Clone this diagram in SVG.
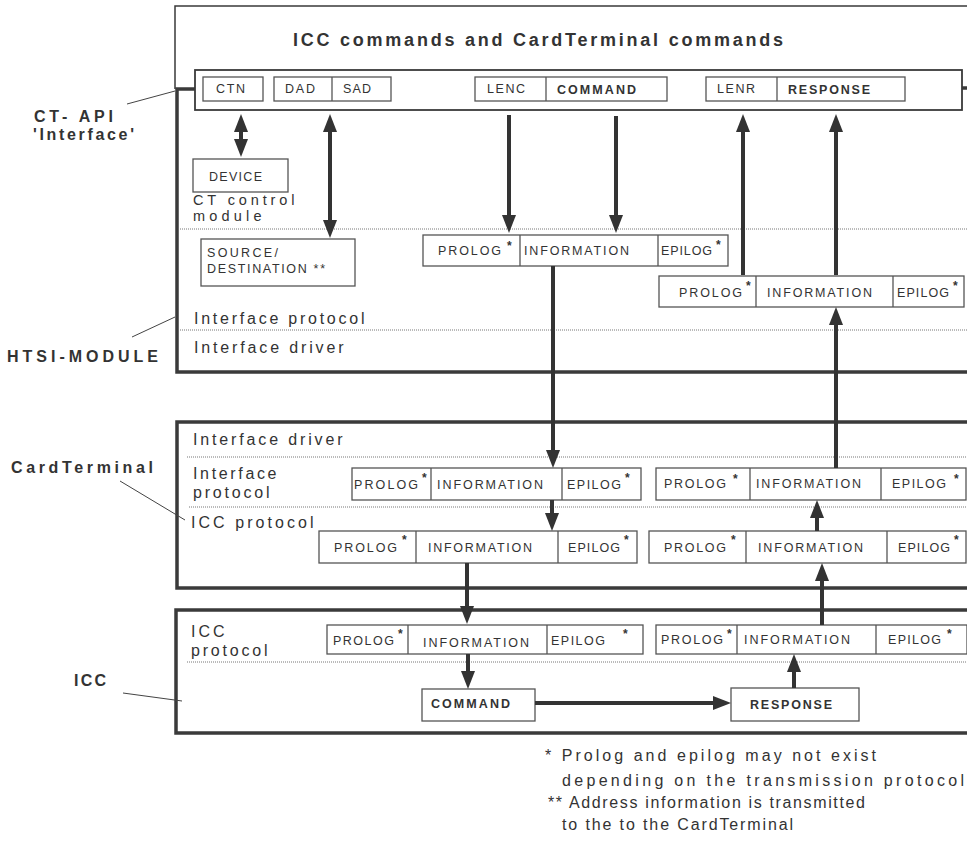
<svg xmlns="http://www.w3.org/2000/svg" width="967" height="867" viewBox="0 0 967 867">
<style>
text{font-family:"Liberation Sans",Arial,sans-serif;fill:#333}
.t{font-size:12.5px;letter-spacing:2px}
.b{font-weight:bold}
.l{font-size:16px;letter-spacing:2.5px}
.m{font-size:14.5px;letter-spacing:2.5px}
.st{font-size:12px;font-weight:bold}
.lab{font-size:16px;font-weight:bold;letter-spacing:3px}
.fn{font-size:16px;letter-spacing:2px}
.box{fill:#fff;stroke:#555;stroke-width:1.3}
.thin{fill:none;stroke:#3a3a3a;stroke-width:1.5}
.thick{fill:none;stroke:#3a3a3a;stroke-width:3.5}
.dot{fill:none;stroke:#777;stroke-width:1;stroke-dasharray:1 1}
.lead{fill:none;stroke:#444;stroke-width:1}
.arr{fill:none;stroke:#333;stroke-width:4}
.div{stroke:#555;stroke-width:1.3}
</style>
<defs>
<marker id="ah" markerUnits="userSpaceOnUse" markerWidth="18" markerHeight="14" viewBox="0 0 18 14" refX="8" refY="7" orient="auto-start-reverse">
<path d="M0,0 L18,7 L0,14 z" fill="#333"/>
</marker>
</defs>

<g id="frames">
<path class="thin" d="M175,89 V6 H967"/>
<path class="thick" d="M195,89 H177 V372 H967"/>
<path class="thick" d="M962,88 H967"/>
<path class="thick" d="M967,422 H177 V588 H967"/>
<path class="thick" d="M967,610 H176 V733 H967"/>
<path class="dot" d="M180,229 H967 M180,330 H967 M187,457 H967 M189,507 H967 M187,662 H967"/>
<path class="lead" d="M127,104 L175,91 M132,337 L175,317 M120,481 L185,520 M123,693 L182,701"/>
</g>

<g id="title">
<text class="b" x="293" y="46" font-size="18" textLength="490" lengthAdjust="spacing">ICC commands and CardTerminal commands</text>
</g>

<g id="ctapi-bar">
<rect x="195" y="70" width="767" height="40" fill="#fff" stroke="#3a3a3a" stroke-width="1.8"/>
</g>

<g id="ctn">
<rect class="box" x="203" y="77" width="60" height="24"/>
<text class="t" x="216" y="93" textLength="31" lengthAdjust="spacing">CTN</text>
</g>
<g id="dad-sad">
<rect class="box" x="274" y="77" width="117" height="24"/>
<line class="div" x1="332" y1="77" x2="332" y2="101"/>
<text class="t" x="285" y="93" textLength="32" lengthAdjust="spacing">DAD</text>
<text class="t" x="343" y="93" textLength="30" lengthAdjust="spacing">SAD</text>
</g>
<g id="lenc-command">
<rect class="box" x="475" y="77" width="192" height="24"/>
<line class="div" x1="546" y1="77" x2="546" y2="101"/>
<text class="t" x="487" y="93" textLength="40" lengthAdjust="spacing">LENC</text>
<text class="t b" x="557" y="94" textLength="81" lengthAdjust="spacing">COMMAND</text>
</g>
<g id="lenr-response">
<rect class="box" x="706" y="77" width="199" height="24"/>
<line class="div" x1="777" y1="77" x2="777" y2="101"/>
<text class="t" x="717" y="93" textLength="40" lengthAdjust="spacing">LENR</text>
<text class="t b" x="788" y="94" textLength="84" lengthAdjust="spacing">RESPONSE</text>
</g>

<g id="device">
<rect class="box" x="193" y="159" width="95" height="33"/>
<text class="t" x="209" y="181" textLength="55" lengthAdjust="spacing">DEVICE</text>
</g>
<g id="ct-control-label">
<text class="m" x="193" y="205" textLength="104" lengthAdjust="spacing">CT control</text>
<text class="m" x="193" y="221" textLength="71" lengthAdjust="spacing">module</text>
</g>
<g id="source-destination">
<rect class="box" x="201" y="239" width="154" height="47"/>
<text class="t" x="207" y="257" textLength="73" lengthAdjust="spacing">SOURCE/</text>
<text class="t" x="207" y="273" textLength="120" lengthAdjust="spacing">DESTINATION **</text>
</g>

<g id="htsi-cmd-frame">
<rect class="box" x="423" y="235" width="305" height="31"/>
<line class="div" x1="520" y1="235" x2="520" y2="266"/>
<line class="div" x1="658" y1="235" x2="658" y2="266"/>
<text class="t" x="438" y="255" textLength="65" lengthAdjust="spacing">PROLOG</text>
<text class="st" x="507" y="250">*</text>
<text class="t" x="524" y="255" textLength="107" lengthAdjust="spacing">INFORMATION</text>
<text class="t" x="661" y="255" textLength="53" lengthAdjust="spacing">EPILOG</text>
<text class="st" x="716" y="249">*</text>
</g>
<g id="htsi-rsp-frame">
<rect class="box" x="659" y="276" width="305" height="31"/>
<line class="div" x1="756" y1="276" x2="756" y2="307"/>
<line class="div" x1="893" y1="276" x2="893" y2="307"/>
<text class="t" x="679" y="297" textLength="65" lengthAdjust="spacing">PROLOG</text>
<text class="st" x="746" y="290">*</text>
<text class="t" x="767" y="297" textLength="107" lengthAdjust="spacing">INFORMATION</text>
<text class="t" x="897" y="297" textLength="54" lengthAdjust="spacing">EPILOG</text>
<text class="st" x="953" y="290">*</text>
</g>
<g id="htsi-layers">
<text class="l" x="194" y="324" textLength="173" lengthAdjust="spacing">Interface protocol</text>
<text class="l" x="194" y="353" textLength="152" lengthAdjust="spacing">Interface driver</text>
</g>

<g id="ct-layers">
<text class="l" x="193" y="445" textLength="152" lengthAdjust="spacing">Interface driver</text>
<text class="l" x="193" y="479" textLength="86" lengthAdjust="spacing">Interface</text>
<text class="l" x="193" y="498" textLength="79" lengthAdjust="spacing">protocol</text>
<text class="l" x="191" y="528" textLength="125" lengthAdjust="spacing">ICC protocol</text>
</g>
<g id="ct-if-cmd">
<rect class="box" x="352" y="468" width="289" height="32"/>
<line class="div" x1="431" y1="468" x2="431" y2="500"/>
<line class="div" x1="562" y1="468" x2="562" y2="500"/>
<text class="t" x="354" y="489" textLength="66" lengthAdjust="spacing">PROLOG</text>
<text class="st" x="422" y="482">*</text>
<text class="t" x="437" y="489" textLength="108" lengthAdjust="spacing">INFORMATION</text>
<text class="t" x="567" y="489" textLength="56" lengthAdjust="spacing">EPILOG</text>
<text class="st" x="625" y="482">*</text>
</g>
<g id="ct-if-rsp">
<rect class="box" x="656" y="468" width="310" height="32"/>
<line class="div" x1="750" y1="468" x2="750" y2="500"/>
<line class="div" x1="881" y1="468" x2="881" y2="500"/>
<text class="t" x="664" y="488" textLength="64" lengthAdjust="spacing">PROLOG</text>
<text class="st" x="733" y="483">*</text>
<text class="t" x="756" y="488" textLength="107" lengthAdjust="spacing">INFORMATION</text>
<text class="t" x="892" y="488" textLength="56" lengthAdjust="spacing">EPILOG</text>
<text class="st" x="954" y="483">*</text>
</g>
<g id="ct-icc-cmd">
<rect class="box" x="319" y="531" width="318" height="32"/>
<line class="div" x1="416" y1="531" x2="416" y2="563"/>
<line class="div" x1="558" y1="531" x2="558" y2="563"/>
<text class="t" x="334" y="552" textLength="65" lengthAdjust="spacing">PROLOG</text>
<text class="st" x="402" y="544">*</text>
<text class="t" x="428" y="552" textLength="106" lengthAdjust="spacing">INFORMATION</text>
<text class="t" x="568" y="552" textLength="54" lengthAdjust="spacing">EPILOG</text>
<text class="st" x="624" y="544">*</text>
</g>
<g id="ct-icc-rsp">
<rect class="box" x="649" y="531" width="317" height="32"/>
<line class="div" x1="746" y1="531" x2="746" y2="563"/>
<line class="div" x1="887" y1="531" x2="887" y2="563"/>
<text class="t" x="664" y="552" textLength="64" lengthAdjust="spacing">PROLOG</text>
<text class="st" x="731" y="544">*</text>
<text class="t" x="758" y="552" textLength="107" lengthAdjust="spacing">INFORMATION</text>
<text class="t" x="898" y="552" textLength="54" lengthAdjust="spacing">EPILOG</text>
<text class="st" x="954" y="544">*</text>
</g>

<g id="icc-layers">
<text class="l" x="191" y="637" textLength="36" lengthAdjust="spacing">ICC</text>
<text class="l" x="191" y="656" textLength="79" lengthAdjust="spacing">protocol</text>
</g>
<g id="icc-cmd">
<rect class="box" x="327" y="625" width="316" height="29"/>
<line class="div" x1="408" y1="625" x2="408" y2="654"/>
<line class="div" x1="547" y1="625" x2="547" y2="654"/>
<text class="t" x="333" y="645" textLength="63" lengthAdjust="spacing">PROLOG</text>
<text class="st" x="398" y="638">*</text>
<text class="t" x="423" y="647" textLength="108" lengthAdjust="spacing">INFORMATION</text>
<text class="t" x="551" y="645" textLength="56" lengthAdjust="spacing">EPILOG</text>
<text class="st" x="623" y="638">*</text>
</g>
<g id="icc-rsp">
<rect class="box" x="656" y="625" width="311" height="29"/>
<line class="div" x1="737" y1="625" x2="737" y2="654"/>
<line class="div" x1="876" y1="625" x2="876" y2="654"/>
<text class="t" x="661" y="644" textLength="64" lengthAdjust="spacing">PROLOG</text>
<text class="st" x="727" y="638">*</text>
<text class="t" x="744" y="644" textLength="108" lengthAdjust="spacing">INFORMATION</text>
<text class="t" x="888" y="644" textLength="55" lengthAdjust="spacing">EPILOG</text>
<text class="st" x="947" y="638">*</text>
</g>
<g id="command">
<rect class="box" x="422" y="689" width="113" height="32"/>
<text class="t b" x="431" y="708" textLength="81" lengthAdjust="spacing">COMMAND</text>
</g>
<g id="response">
<rect class="box" x="731" y="688" width="128" height="33"/>
<text class="t b" x="750" y="709" textLength="84" lengthAdjust="spacing">RESPONSE</text>
</g>

<g id="side-labels">
<text class="lab" x="34" y="122" textLength="82" lengthAdjust="spacing">CT- API</text>
<text class="lab" x="33" y="140" textLength="104" lengthAdjust="spacing">'Interface'</text>
<text class="lab" x="7" y="362" textLength="154" lengthAdjust="spacing">HTSI-MODULE</text>
<text class="lab" x="11" y="473" textLength="145" lengthAdjust="spacing">CardTerminal</text>
<text class="lab" x="74" y="686" textLength="35" lengthAdjust="spacing">ICC</text>
</g>

<g id="footnotes">
<text class="fn" x="545" y="761" textLength="333" lengthAdjust="spacing">* Prolog and epilog may not exist</text>
<text class="fn" x="562" y="786" textLength="404" lengthAdjust="spacing">depending on the transmission protocol</text>
<text class="fn" x="548" y="808" textLength="319" lengthAdjust="spacing">** Address information is transmitted</text>
<text class="fn" x="562" y="830" textLength="233" lengthAdjust="spacing">to the to the CardTerminal</text>
</g>

<g id="connectors">
<path class="arr" d="M241,124 V147" marker-start="url(#ah)" marker-end="url(#ah)"/>
<path class="arr" d="M330,124 V228" marker-start="url(#ah)" marker-end="url(#ah)"/>
<path class="arr" d="M509,115 V223" marker-end="url(#ah)"/>
<path class="arr" d="M616,116 V223" marker-end="url(#ah)"/>
<path class="arr" d="M743,275 V124" marker-end="url(#ah)"/>
<path class="arr" d="M836,275 V124" marker-end="url(#ah)"/>
<path class="arr" d="M553,266 V458" marker-end="url(#ah)"/>
<path class="arr" d="M836,468 V317" marker-end="url(#ah)"/>
<path class="arr" d="M552,500 V521" marker-end="url(#ah)"/>
<path class="arr" d="M817,531 V510" marker-end="url(#ah)"/>
<path class="arr" d="M822,625 V573" marker-end="url(#ah)"/>
<path class="arr" d="M467,563 V614" marker-end="url(#ah)"/>
<path class="arr" d="M468,654 V679" marker-end="url(#ah)"/>
<path class="arr" d="M535,703 H721" marker-end="url(#ah)"/>
<path class="arr" d="M794,688 V664" marker-end="url(#ah)"/>
</g>
</svg>
